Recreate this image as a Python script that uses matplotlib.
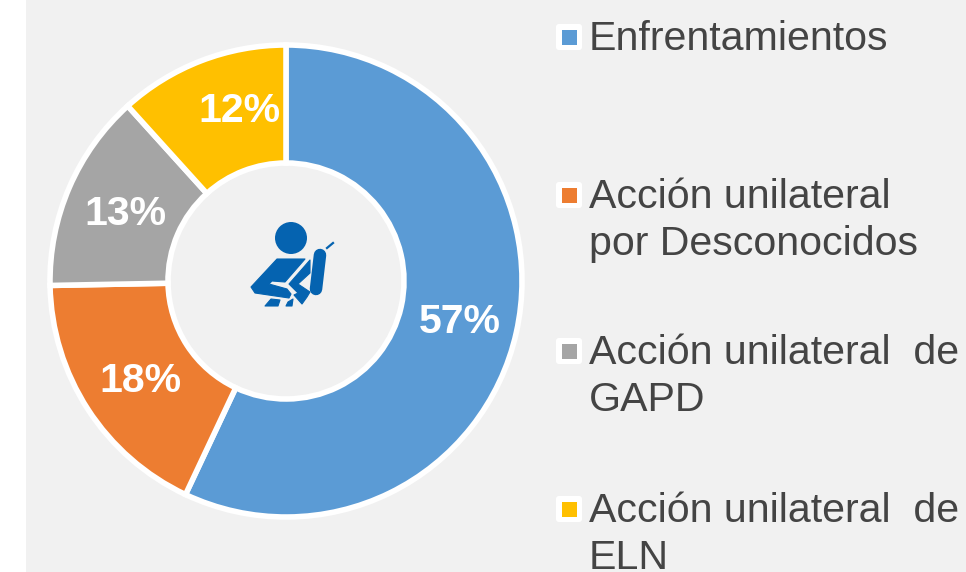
import matplotlib
matplotlib.use("Agg")
import matplotlib.pyplot as plt
from matplotlib.patches import Circle, FancyBboxPatch, Polygon, Rectangle

categories = ["Enfrentamientos", "Acción unilateral\npor Desconocidos",
              "Acción unilateral  de\nGAPD", "Acción unilateral  de\nELN"]
values = [57, 17.7, 13.6, 11.7]
value_labels = ["57%", "18%", "13%", "12%"]
colors = ["#5B9BD5", "#ED7D31", "#A5A5A5", "#FFC000"]

plt.rcParams["font.family"] = ["Liberation Sans", "DejaVu Sans"]

bg = "#F1F1F1"
icon_blue = "#0563B0"
text_color = "#444444"

fig = plt.figure(figsize=(9.66, 5.72), dpi=100, facecolor="white")
ax = fig.add_axes([0, 0, 1, 1])
ax.set_xlim(0, 966)
ax.set_ylim(572, 0)
ax.axis("off")

ax.add_patch(Rectangle((26, 0), 940, 572, facecolor=bg, edgecolor="none", zorder=0))

# the y axis is flipped, so counterclock=True runs clockwise on screen
wedges, _ = ax.pie(values, colors=colors, center=(286, 281), radius=236,
                   startangle=-90, counterclock=True, frame=False,
                   wedgeprops=dict(width=118, edgecolor="white", linewidth=4))
for w in wedges:
    w.set_zorder(2)
ax.set_xlim(0, 966)
ax.set_ylim(572, 0)
ax.set_aspect("equal")

label_x = [460, 140, 125, 239]
label_y = [322, 381, 214, 111]
for x, y, lab in zip(label_x, label_y, value_labels):
    ax.text(x, y, lab, color="white", fontsize=29.5, fontweight="bold",
            ha="center", va="center", zorder=3)

# legend
marker_y = [37, 195, 351, 509]
for y, cat, col in zip(marker_y, categories, colors):
    ax.add_patch(FancyBboxPatch((556, y - 13), 26, 26, boxstyle="round,pad=0,rounding_size=3",
                                facecolor="white", edgecolor="none", zorder=2))
    ax.add_patch(Rectangle((562, y - 7.5), 15, 15, facecolor=col, edgecolor="none", zorder=3))
    ax.text(589, y - 17, cat, color=text_color, fontsize=29.6, ha="left", va="top",
            linespacing=1.3, zorder=3)

# seat belt icon
ax.add_patch(Circle((291, 238), 16, facecolor=icon_blue, edgecolor="none", zorder=3))
torso = [(277, 259), (305, 259), (285, 282), (272, 281), (269, 284), (287, 289), (291, 294),
         (289, 298), (255, 293), (251, 287)]
belt = [(310, 260), (310, 273), (298, 284), (310, 292), (307, 297), (302, 304), (294, 295),
        (298, 293), (289, 284)]
lap_left = [(265, 306), (271, 299), (280, 300), (278, 306)]
lap_right = [(286, 306), (288, 302), (293, 299), (292, 306)]
for shape in [torso, belt, lap_left, lap_right]:
    ax.add_patch(Polygon(shape, closed=True, facecolor=icon_blue, edgecolor=icon_blue,
                         linewidth=0.8, joinstyle="round", zorder=3))
ax.plot([320, 316], [255, 289], color=icon_blue, lw=9, solid_capstyle="round", zorder=3)
ax.plot([327, 333], [248, 243], color=icon_blue, lw=1.6, zorder=3)

fig.savefig("out.png", dpi=100, facecolor=fig.get_facecolor())
